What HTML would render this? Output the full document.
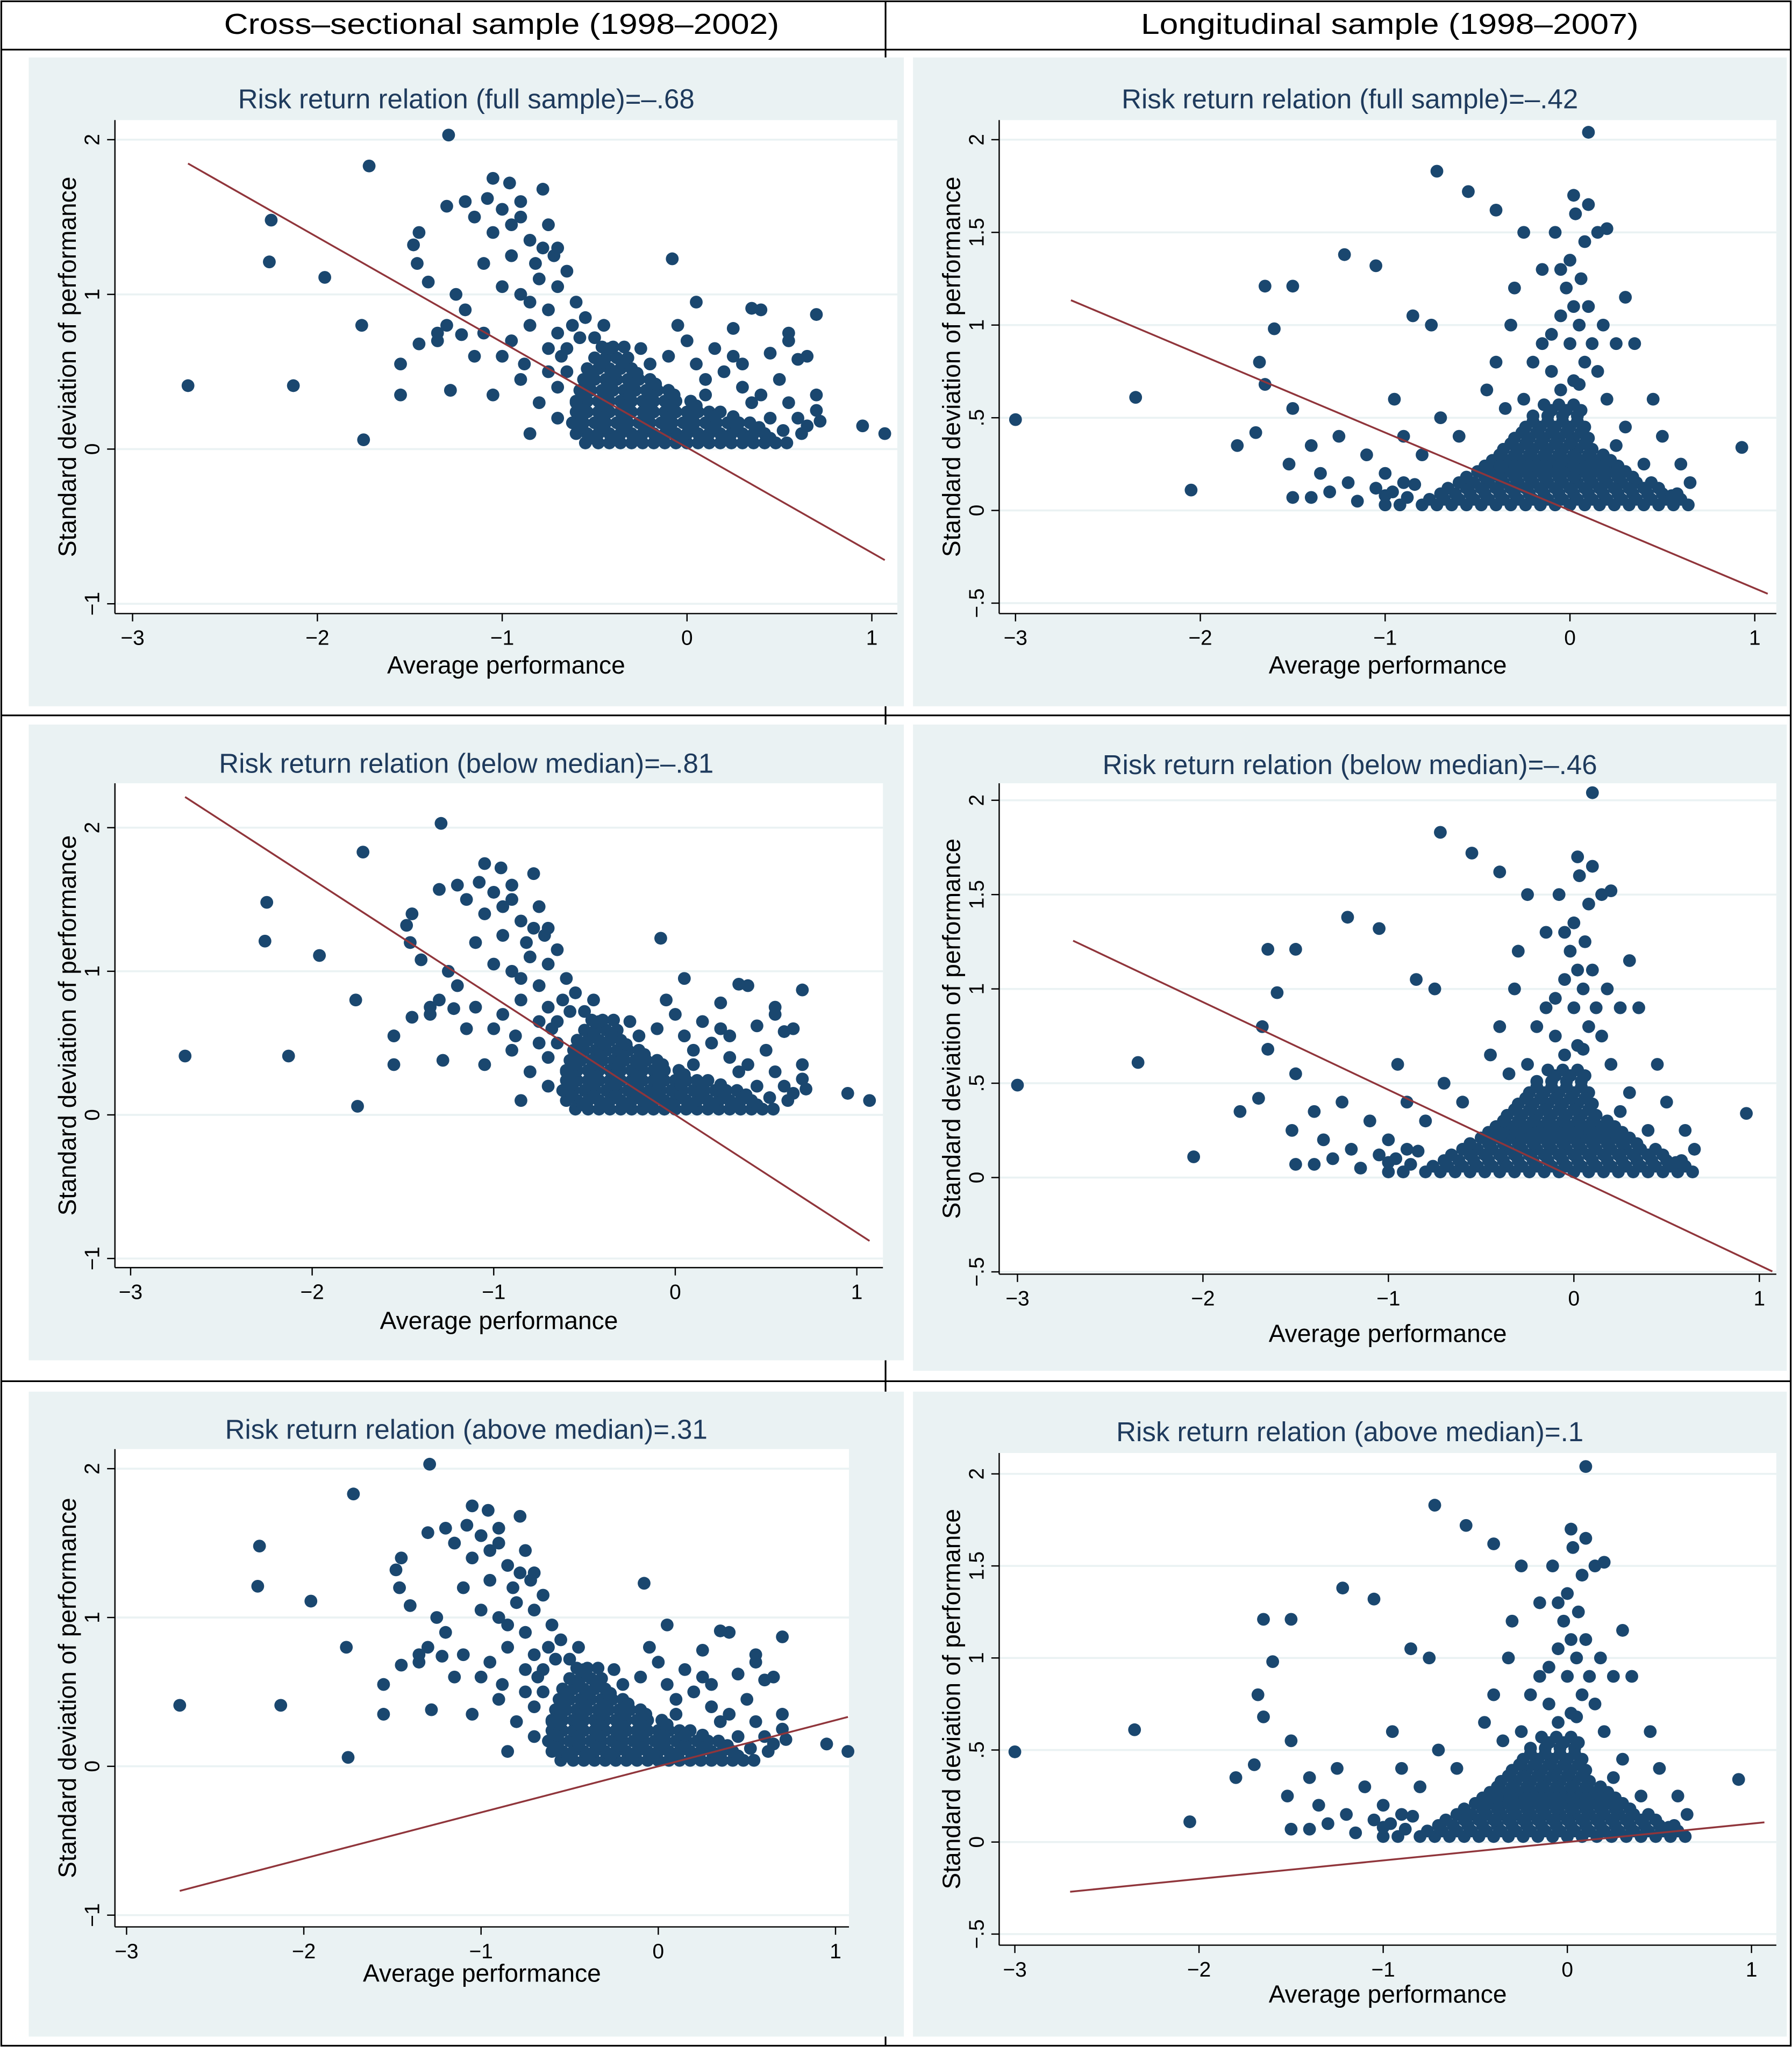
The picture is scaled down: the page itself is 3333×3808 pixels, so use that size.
<!DOCTYPE html>
<html><head><meta charset="utf-8"><style>
html,body{margin:0;padding:0;background:#fff}
svg{display:block}
text{font-family:"Liberation Sans",sans-serif}
</style></head><body>
<svg id="chart" width="3333" height="3808" viewBox="0 0 1372 1568" preserveAspectRatio="none" xmlns="http://www.w3.org/2000/svg">
<rect x="0" y="0" width="1372" height="1568" fill="#fff"/>
<g id="frame" stroke="#000" stroke-width="1.3" fill="none">
<rect x="1" y="1" width="1370" height="1566"/>
<line x1="678" y1="1" x2="678" y2="1567"/>
<line x1="1" y1="38" x2="1371" y2="38"/>
<line x1="1" y1="548" x2="1371" y2="548"/>
<line x1="1" y1="1058" x2="1371" y2="1058"/>
</g>
<text x="384" y="26" font-size="22" text-anchor="middle" textLength="425" lengthAdjust="spacingAndGlyphs">Cross–sectional sample (1998–2002)</text>
<text x="1064" y="26" font-size="22" text-anchor="middle" textLength="381" lengthAdjust="spacingAndGlyphs">Longitudinal sample (1998–2007)</text>
</svg>
<script>
// ---- data ----
const crossPoints = [
[-.55,.04],[-.48,.04],[-.42,.04],[-.36,.04],[-.3,.04],[-.24,.04],[-.18,.04],[-.12,.04],[-.06,.04],[0,.04],[.06,.04],[.12,.04],[.18,.04],[.24,.04],[.3,.04],[.36,.04],[.42,.04],[.48,.04],[.54,.04],
[-.6,.1],[-.54,.1],[-.48,.1],[-.42,.1],[-.36,.1],[-.3,.1],[-.24,.1],[-.18,.1],[-.12,.1],[-.06,.1],[0,.1],[.06,.1],[.12,.1],[.18,.1],[.24,.1],[.3,.1],[.36,.1],[.42,.1],
[-.62,.17],[-.56,.17],[-.5,.17],[-.44,.17],[-.38,.17],[-.32,.17],[-.26,.17],[-.2,.17],[-.14,.17],[-.08,.17],[-.02,.17],[.04,.17],[.1,.17],[.16,.17],[.22,.17],[.28,.17],[.34,.17],
[-.6,.24],[-.54,.24],[-.48,.24],[-.42,.24],[-.36,.24],[-.3,.24],[-.24,.24],[-.18,.24],[-.12,.24],[-.06,.24],[0,.24],[.06,.24],[.12,.24],[.18,.24],
[-.6,.31],[-.54,.31],[-.48,.31],[-.42,.31],[-.36,.31],[-.3,.31],[-.24,.31],[-.18,.31],[-.12,.31],[-.06,.31],[.02,.31],
[-.58,.38],[-.52,.38],[-.46,.38],[-.4,.38],[-.34,.38],[-.28,.38],[-.22,.38],[-.16,.38],[-.1,.38],
[-.56,.45],[-.5,.45],[-.44,.45],[-.38,.45],[-.32,.45],[-.26,.45],[-.2,.45],
[-.54,.52],[-.48,.52],[-.42,.52],[-.36,.52],[-.3,.52],
[-.5,.59],[-.44,.59],[-.38,.59],[-.32,.59],[-.46,.66],[-.4,.66],[-.34,.66],
[-.51,.07],[-.39,.07],[-.27,.07],[-.15,.07],[-.03,.07],[.09,.07],[.21,.07],[.33,.07],[.45,.07],
[-.57,.14],[-.45,.14],[-.33,.14],[-.21,.14],[-.09,.14],[.03,.14],[.15,.14],[.27,.14],[.39,.14],
[-.57,.21],[-.45,.21],[-.33,.21],[-.21,.21],[-.09,.21],[.03,.21],[.15,.21],[.25,.21],
[-.57,.28],[-.45,.28],[-.33,.28],[-.21,.28],[-.09,.28],[.05,.28],
[-.55,.35],[-.43,.35],[-.31,.35],[-.19,.35],[-.07,.35],[-.53,.42],[-.41,.42],[-.29,.42],[-.17,.42],[-.51,.49],[-.39,.49],[-.27,.49],[-.45,.56],[-.35,.56],
[-1.2,1.6],[-1.15,1.5],[-1.08,1.62],[-1.0,1.55],[-.95,1.45],[-1.05,1.4],[-.9,1.6],[-.85,1.35],[-.78,1.3],[-.72,1.25],[-.95,1.25],[-1.1,1.2],[-.8,1.1],[-.7,1.05],[-.65,1.15],[-.6,.95],[-.9,1.0],[-1.0,1.05],[-.75,.9],[-.55,.85],[-.85,.8],[-1.1,.75],[-1.2,.9],[-1.3,.8],[-.95,.7],[-.7,.75],[-.65,.65],[-1.0,.6],[-1.15,.6],[-1.35,.7],[-1.25,1.0],[-.88,.55],[-.75,.5],[-.7,.4],[-.8,.3],[-.85,.1],[-.7,.2],[-.68,.6],[-.6,.3],[-.45,.8],[-.5,.72],[-.42,.65],[-1.05,.35],[-.9,.45],[-1.05,1.75],[-.96,1.72],[-.78,1.68],[-.9,1.5],[-.75,1.45],[-.82,1.2],[-.62,.8],[-.58,.72],[-.65,.5],[-.75,.65],[-.85,.95],[-.7,1.3],
[.1,.45],[.2,.5],[.3,.4],[.4,.35],[.5,.45],[.55,.3],[.6,.2],[.65,.15],[.45,.2],[.35,.3],[.25,.6],[.15,.65],[.05,.55],[-.1,.6],[0,.7],[.3,.55],[.45,.62],[.6,.58],[.62,.1],[.7,.25],[.52,.12],[.1,.35],[-.2,.55],[-.25,.65],[.05,.95],[-.05,.8],[.25,.78],[.4,.9],[.55,.75],
[-1.29,2.03],[-1.72,1.83],[-2.25,1.48],[-2.26,1.21],[-1.96,1.11],[-2.7,.41],[-2.13,.41],[-1.76,.8],[-1.75,.06],[-.08,1.23],[-1.3,1.57],[-1.45,1.4],[-1.48,1.32],[-1.46,1.2],[-1.4,1.08],[-1.55,.55],[-1.55,.35],[-1.28,.38],[-1.45,.68],[-1.35,.75],[-1.22,.74],[.7,.87],[.35,.91],[.95,.15],[1.07,.1],[.72,.18],[.7,.35],[.65,.6],[.55,.7]
];
const longPoints = [
[-.8,.03],[-.72,.03],[-.64,.03],[-.56,.03],[-.48,.03],[-.4,.03],[-.32,.03],[-.24,.03],[-.16,.03],[-.08,.03],[0,.03],[.08,.03],[.16,.03],[.24,.03],[.32,.03],[.4,.03],[.48,.03],[.56,.03],[.64,.03],
[-.7,.09],[-.62,.09],[-.54,.09],[-.46,.09],[-.38,.09],[-.3,.09],[-.22,.09],[-.14,.09],[-.06,.09],[.02,.09],[.1,.09],[.18,.09],[.26,.09],[.34,.09],[.42,.09],[.5,.09],[.58,.09],
[-.6,.15],[-.52,.15],[-.44,.15],[-.36,.15],[-.28,.15],[-.2,.15],[-.12,.15],[-.04,.15],[.04,.15],[.12,.15],[.2,.15],[.28,.15],[.36,.15],[.44,.15],
[-.5,.21],[-.42,.21],[-.34,.21],[-.26,.21],[-.18,.21],[-.1,.21],[-.02,.21],[.06,.21],[.14,.21],[.22,.21],[.3,.21],
[-.42,.27],[-.34,.27],[-.26,.27],[-.18,.27],[-.1,.27],[-.02,.27],[.06,.27],[.14,.27],[.22,.27],
[-.36,.33],[-.28,.33],[-.2,.33],[-.12,.33],[-.04,.33],[.04,.33],[.12,.33],
[-.3,.39],[-.22,.39],[-.14,.39],[-.06,.39],[.02,.39],[.1,.39],
[-.24,.45],[-.16,.45],[-.08,.45],[0,.45],[.08,.45],
[-.2,.51],[-.12,.51],[-.04,.51],[.04,.51],[-.14,.57],[-.06,.57],[.02,.57],
[-.76,.06],[-.68,.06],[-.6,.06],[-.52,.06],[-.44,.06],[-.36,.06],[-.28,.06],[-.2,.06],[-.12,.06],[-.04,.06],[.04,.06],[.12,.06],[.2,.06],[.28,.06],[.36,.06],[.44,.06],[.52,.06],[.6,.06],
[-.66,.12],[-.56,.12],[-.48,.12],[-.4,.12],[-.32,.12],[-.24,.12],[-.16,.12],[-.08,.12],[0,.12],[.08,.12],[.16,.12],[.24,.12],[.32,.12],[.4,.12],[.48,.12],
[-.56,.18],[-.46,.18],[-.38,.18],[-.3,.18],[-.22,.18],[-.14,.18],[-.06,.18],[.02,.18],[.1,.18],[.18,.18],[.26,.18],[.34,.18],
[-.46,.24],[-.38,.24],[-.3,.24],[-.22,.24],[-.14,.24],[-.06,.24],[.02,.24],[.1,.24],[.18,.24],[.26,.24],
[-.38,.3],[-.3,.3],[-.22,.3],[-.14,.3],[-.06,.3],[.02,.3],[.1,.3],[.18,.3],
[-.32,.36],[-.24,.36],[-.16,.36],[-.08,.36],[0,.36],[.08,.36],[-.26,.42],[-.18,.42],[-.1,.42],[-.02,.42],[.06,.42],[-.2,.48],[-.12,.48],[-.04,.48],[.04,.48],[-.1,.54],[-.02,.54],[.06,.54],
[-1.0,.03],[-.92,.03],[-.88,.07],[-.96,.1],[-1.05,.12],[-.84,.14],
[-.05,.65],[.02,.7],[.08,.8],[-.1,.75],[0,.9],[.05,1.0],[-.05,1.05],[.1,1.1],[-.02,1.2],[.06,1.25],[0,1.35],[.08,1.45],[-.08,1.5],[.03,1.6],[.1,1.65],[-.15,.9],[-.2,.8],[.15,.75],[-.25,.6],[.2,.6],[-.3,1.2],[-.32,1.0],[-.4,.8],[-.45,.65],[-.35,.55],[.18,1.0],[.25,.9],[-.15,1.3],[-.25,1.5],[.15,1.5],[.05,.68],[-.1,.95],[.12,.9],[.02,1.1],[-.05,1.3],
[-3.0,.49],[-2.35,.61],[-2.05,.11],[-1.65,1.21],[-1.5,1.21],[-1.6,.98],[-1.68,.8],[-1.65,.68],[-1.8,.35],[-1.7,.42],[-1.5,.55],[-1.52,.25],[-1.5,.07],[-1.4,.07],[-1.35,.2],[-1.25,.4],[-1.22,1.38],[-1.05,1.32],[-1.1,.3],[-.72,1.83],[-.55,1.72],[-.4,1.62],[.1,2.04],[.02,1.7],[.2,1.52],[-.85,1.05],[-.75,1.0],[-.95,.6],[-1.0,.2],[-.9,.15],[-.8,.3],[-.6,.4],[.3,1.15],[.35,.9],[.45,.6],[.5,.4],[.6,.25],[.65,.15],[.55,.08],[.93,.34],[.4,.25],[.3,.45],[.25,.35],[-1.4,.35],[-1.3,.1],[-1.2,.15],[-1.15,.05],[-1.0,.08],[-.9,.4],[-.7,.5]
];
const panelTitles = ["Risk return relation (full sample)=\u2013.68","Risk return relation (full sample)=\u2013.42","Risk return relation (below median)=\u2013.81","Risk return relation (below median)=\u2013.46","Risk return relation (above median)=.31","Risk return relation (above median)=.1"];
const fitSlopes = [-0.68,-0.42,-0.82,-0.465,0.31,0.1];
const fitIntercepts = [0.01,0.0,0.0,0.0,0.0,0.0];
const fitXRange = [-2.7,1.07];
const xTicks = [-3,-2,-1,0,1];
const xTickLabels = ["\u22123","\u22122","\u22121","0","1"];
const yTicksCross = [2,1,0,-1];
const yTickLabelsCross = ["2","1","0","\u22121"];
const yTicksLong = [2,1.5,1,0.5,0,-0.5];
const yTickLabelsLong = ["2","1.5","1",".5","0","\u2212.5"];

// ---- layout (display coords) ----
const panels = [
 {bg:[22,44,670,497], pl:88,pt:92,pr:687,pb:470, x0:526,xs:141.5,y0:344,ys:118.5, ty:83, xt:516, pts:crossPoints, cross:true},
 {bg:[699,44,669,497], pl:765,pt:92,pr:1360,pb:470, x0:1202,xs:141.5,y0:391,ys:142, ty:83, xt:516, pts:longPoints, cross:false},
 {bg:[22,555,670,487], pl:88,pt:600,pr:676,pb:971, x0:517,xs:139,y0:854,ys:110, ty:592, xt:1018, pts:crossPoints, cross:true},
 {bg:[699,555,669,495], pl:765,pt:600,pr:1360,pb:976, x0:1205,xs:142,y0:902,ys:144.5, ty:593, xt:1028, pts:longPoints, cross:false},
 {bg:[22,1066,670,494], pl:88,pt:1110,pr:650,pb:1476, x0:504,xs:135.7,y0:1353,ys:114, ty:1102, xt:1518, pts:crossPoints, cross:true},
 {bg:[699,1066,669,494], pl:765,pt:1113,pr:1360,pb:1490, x0:1200,xs:141,y0:1411,ys:141, ty:1104, xt:1534, pts:longPoints, cross:false}
];
const NS="http://www.w3.org/2000/svg";
const svg=document.getElementById('chart');
function mk(tag,attrs,parent){const e=document.createElementNS(NS,tag);for(const k in attrs)e.setAttribute(k,attrs[k]);parent.appendChild(e);return e;}
panels.forEach((p,i)=>{
 const g=mk('g',{},svg);
 
 
 const sx=v=>p.x0+v*p.xs, sy=v=>p.y0-v*p.ys;
 const bg=mk('rect',{x:p.bg[0],y:p.bg[1],width:p.bg[2],height:p.bg[3],fill:'#eaf2f3'},g);
 
 
 const pa=mk('rect',{x:p.pl,y:p.pt,width:p.pr-p.pl,height:p.pb-p.pt,fill:'#fff'},g);
 
 
 const yt=p.cross?yTicksCross:yTicksLong, yl=p.cross?yTickLabelsCross:yTickLabelsLong;
 yt.forEach((v,j)=>{
  const gl=mk('line',{x1:p.pl,x2:p.pr,y1:sy(v),y2:sy(v),stroke:'#eaf2f3','stroke-width':1.5},g);
  
  
  mk('line',{x1:p.pl-6,x2:p.pl,y1:sy(v),y2:sy(v),stroke:'#000','stroke-width':1},g);
  const t=mk('text',{x:p.pl-12,y:sy(v),'font-size':16,'text-anchor':'middle',transform:`rotate(-90 ${p.pl-12} ${sy(v)})`},g);
  t.textContent=yl[j];
  
  
 });
 xTicks.forEach((v,j)=>{
  mk('line',{x1:sx(v),x2:sx(v),y1:p.pb,y2:p.pb+6,stroke:'#000','stroke-width':1},g);
  const t=mk('text',{x:sx(v),y:p.pb+24,'font-size':16,'text-anchor':'middle'},g);
  t.textContent=xTickLabels[j];
  
  
 });
 mk('line',{x1:p.pl,x2:p.pl,y1:p.pt,y2:p.pb,stroke:'#000','stroke-width':1},g);
 mk('line',{x1:p.pl,x2:p.pr,y1:p.pb,y2:p.pb,stroke:'#000','stroke-width':1},g);
 p.pts.forEach(d=>{
  const c=mk('circle',{cx:sx(d[0]),cy:sy(d[1]),r:4.9,fill:'#1a476f'},g);
  
  
 });
 const f=x=>fitIntercepts[i]+fitSlopes[i]*x;
 const ln=mk('line',{x1:sx(fitXRange[0]),y1:sy(f(fitXRange[0])),x2:sx(fitXRange[1]),y2:sy(f(fitXRange[1])),stroke:'#90353b','stroke-width':1.4},g);
 
 
 const cx=(p.bg[0]*2+p.bg[2])/2;
 const tt=mk('text',{x:cx,y:p.ty,'font-size':21,'text-anchor':'middle',fill:'#1e3a5c'},g);
 tt.textContent=panelTitles[i];
 
 
 const xt=mk('text',{x:(p.pl+p.pr)/2,y:p.xt,'font-size':19,'text-anchor':'middle'},g);
 xt.textContent='Average performance';
 
 
 const ymid=(p.pt+p.pb)/2;
 const ya=mk('text',{x:p.pl-30,y:ymid,'font-size':19,'text-anchor':'middle',transform:`rotate(-90 ${p.pl-30} ${ymid})`},g);
 ya.textContent='Standard deviation of performance';
 
 
});
</script>
</body></html>
